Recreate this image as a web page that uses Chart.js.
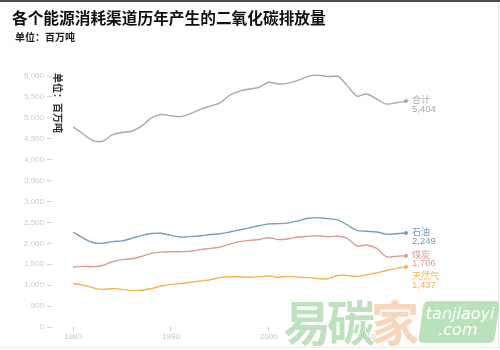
<!DOCTYPE html>
<html>
<head>
<meta charset="utf-8">
<script src="https://cdn.jsdelivr.net/npm/chart.js@4/dist/chart.umd.min.js"></script>
<style>
  html, body { margin: 0; padding: 0; background: #fff; }
  #wrap { position: relative; width: 500px; height: 350px; overflow: hidden; background: #fff; }
  #topbar { position: absolute; left: 0; top: 0; width: 500px; height: 2px; background: #4d4d4d; }
  #edge { position: absolute; right: 1px; top: 2px; width: 1px; height: 346px; background: #e4e4e4; }
  #edgeb { position: absolute; left: 0; bottom: 2px; width: 500px; height: 1px; background: #ececec; }
  #title { position: absolute; left: 12px; top: 9px; font: bold 15.7px "Noto Sans CJK SC", sans-serif; color: #111; line-height: 18px; white-space: nowrap; }
  #subtitle { position: absolute; left: 15px; top: 31px; font: bold 10px "Noto Sans CJK SC", sans-serif; color: #222; line-height: 12px; white-space: nowrap; }
  #ytitle { position: absolute; left: 63px; top: 73px; transform: rotate(90deg); transform-origin: 0 0; font: bold 10px "Noto Sans CJK SC", sans-serif; color: #333; line-height: 10px; white-space: nowrap; }
  canvas { position: absolute; left: 0; top: 0; }
  #mark { position: absolute; left: 283px; top: 292px; font: bold 48px "Noto Sans CJK SC", sans-serif; line-height: 56px; white-space: nowrap; opacity: 0.75; letter-spacing: -4px; }
  #mark .g { color: #a9d9a9; }
  #mark .o { color: #f7c8a3; }
  #markbox { position: absolute; left: 421px; top: 301px; width: 76px; height: 42px; background: #b3dfb3; border-radius: 5px; transform: skewX(-8deg); opacity: 0.9; }
  #markbox div { color: #fff; font: italic 16px "DejaVu Sans", sans-serif; text-align: center; line-height: 16px; transform: skewX(8deg); }
</style>
</head>
<body>
<div id="wrap">
  <canvas id="c" width="500" height="350"></canvas>
  <div id="topbar"></div>
  <div id="edge"></div>
  <div id="edgeb"></div>
  <div id="title">各个能源消耗渠道历年产生的二氧化碳排放量</div>
  <div id="subtitle">单位：百万吨</div>
  <div id="ytitle">单位：百万吨</div>
  <div id="mark"><span class="g">易碳</span><span class="o">家</span></div>
  <div id="markbox"><div style="margin-top:5px">tanjiaoyi</div><div>.com</div></div>
</div>
<script>
// Years covered by the series
const years = [1980, 1981, 1982, 1983, 1984, 1985, 1986, 1987, 1988, 1989,
               1990, 1991, 1992, 1993, 1994, 1995, 1996, 1997, 1998, 1999,
               2000, 2001, 2002, 2003, 2004, 2005, 2006, 2007, 2008, 2009,
               2010, 2011, 2012, 2013, 2014];

// CO2 emissions, million tonnes
const totalEmissions = [4780, 4620, 4460, 4440, 4590, 4650, 4680, 4800, 5000, 5080,
                        5050, 5030, 5100, 5200, 5280, 5360, 5540, 5640, 5690, 5730,
                        5850, 5810, 5830, 5900, 5990, 6020, 5990, 6000, 5770, 5520,
                        5570, 5450, 5330, 5360, 5404];
const oilEmissions = [2265, 2130, 2020, 2000, 2040, 2060, 2120, 2190, 2235, 2240,
                      2190, 2150, 2160, 2180, 2210, 2230, 2270, 2320, 2370, 2420,
                      2465, 2470, 2490, 2540, 2600, 2615, 2590, 2560, 2440, 2310,
                      2290, 2270, 2220, 2230, 2249];
const coalEmissions = [1430, 1450, 1440, 1470, 1560, 1610, 1630, 1690, 1760, 1790,
                       1800, 1800, 1810, 1850, 1880, 1910, 1980, 2040, 2070, 2090,
                       2135, 2090, 2110, 2150, 2170, 2180, 2160, 2170, 2120, 1940,
                       1960, 1880, 1680, 1690, 1706];
const gasEmissions = [1040, 1000, 940, 900, 920, 900, 870, 880, 920, 980,
                      1020, 1040, 1070, 1100, 1130, 1180, 1200, 1200, 1190, 1200,
                      1220, 1190, 1210, 1190, 1180, 1160, 1150, 1230, 1230, 1210,
                      1250, 1290, 1350, 1400, 1437];

const seriesNames = ['合计', '石油', '煤炭', '天然气'];
const seriesColors = ['#a9a9a9', '#76a0b6', '#d99c95', '#f3b54c'];
const yTickValues = [0, 500, 1000, 1500, 2000, 2500, 3000, 3500, 4000, 4500, 5000, 5500, 6000];
const xTickYears = [1980, 1990, 2000, 2010];

const seriesValues = [totalEmissions, oilEmissions, coalEmissions, gasEmissions];
const fmt = v => v.toLocaleString('en-US');

// Name and latest value printed beside the last point of each line
const endLabels = {
  id: 'endLabels',
  afterDatasetsDraw(chart) {
    const ctx = chart.ctx;
    ctx.save();
    ctx.textAlign = 'left';
    ctx.textBaseline = 'middle';
    let prevBottom = -Infinity;
    chart.data.datasets.forEach((ds, i) => {
      const meta = chart.getDatasetMeta(i);
      const pt = meta.data[meta.data.length - 1];
      const last = ds.data[ds.data.length - 1].y;
      let y = pt.y - 1.5;
      if (y < prevBottom + 12) y = prevBottom + 12;
      ctx.fillStyle = ds.borderColor;
      ctx.font = '9px "Noto Sans CJK SC", sans-serif';
      ctx.fillText(ds.label, pt.x + 6, y);
      ctx.font = '9.5px "Liberation Sans", sans-serif';
      ctx.fillText(fmt(last), pt.x + 6, y + 9.5);
      prevBottom = y + 9.5;
    });
    ctx.restore();
  }
};

const datasets = seriesNames.map((name, i) => ({
  label: name,
  data: years.map((yr, k) => ({ x: yr, y: seriesValues[i][k] })),
  borderColor: seriesColors[i],
  backgroundColor: seriesColors[i],
  borderWidth: 1.4,
  tension: 0.35,
  clip: 8,
  pointRadius: c => (c.dataIndex === years.length - 1 ? 2 : 0),
  pointBorderWidth: 0,
  fill: false
}));

new Chart(document.getElementById('c'), {
  type: 'line',
  data: { datasets },
  plugins: [endLabels],
  options: {
    responsive: false,
    animation: false,
    layout: { padding: { top: 76, right: 94, bottom: 0, left: 0 } },
    plugins: { legend: { display: false }, tooltip: { enabled: false } },
    scales: {
      x: {
        type: 'linear',
        min: 1977.85,
        max: 2014,
        afterBuildTicks: s => { s.ticks = xTickYears.map(v => ({ value: v })); },
        afterFit: s => { s.height = 23; },
        ticks: {
          callback: v => String(v),
          color: '#c4c4c4',
          font: { family: 'Liberation Sans', size: 8 },
          padding: 1,
          maxRotation: 0
        },
        grid: { drawOnChartArea: false, drawTicks: true, tickLength: 4, color: '#c8c8c8' },
        border: { display: false }
      },
      y: {
        min: 0,
        max: 6000,
        afterBuildTicks: s => { s.ticks = yTickValues.map(v => ({ value: v })); },
        afterFit: s => { s.width = 52; },
        ticks: {
          callback: v => fmt(v),
          color: '#cccccc',
          font: { family: 'Liberation Sans', size: 8 },
          padding: 3
        },
        grid: { drawOnChartArea: false, drawTicks: true, tickLength: 5, color: '#d4d4d4' },
        border: { display: false }
      }
    }
  }
});
</script>
</body>
</html>
